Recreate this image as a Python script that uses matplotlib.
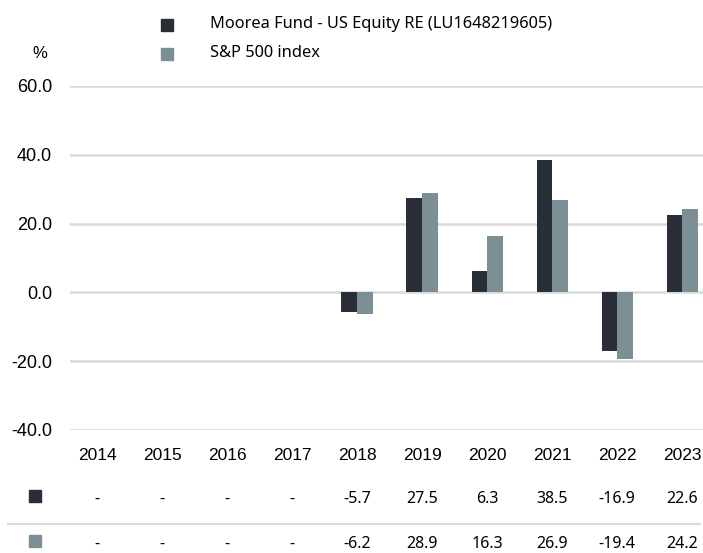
import numpy as np
import matplotlib.pyplot as plt

# chart data
years = ['2014', '2015', '2016', '2017', '2018', '2019', '2020', '2021', '2022', '2023']
fund = [None, None, None, None, -5.7, 27.5, 6.3, 38.5, -16.9, 22.6]
index = [None, None, None, None, -6.2, 28.9, 16.3, 26.9, -19.4, 24.2]
fund_name = 'Moorea Fund - US Equity RE (LU1648219605)'
index_name = 'S&P 500 index'
yticks = [60, 40, 20, 0, -20, -40]

dark = '#2a2e37'
light = '#7b8f94'
grid_col = '#d9d9d9'
W, H = 703, 553

fig = plt.figure(figsize=(W / 100, H / 100), dpi=100)

def fx(px):
    return px / W

def fy(py):
    return 1 - py / H

ax = fig.add_axes([fx(70), fy(430), 1 - fx(70), fy(86) - fy(430)])
x = np.arange(len(years))
bw = 0.24
f_vals = np.array([np.nan if v is None else v for v in fund])
i_vals = np.array([np.nan if v is None else v for v in index])
ax.bar(x - bw / 2, np.nan_to_num(f_vals), bw, color=dark, zorder=3)
ax.bar(x + bw / 2, np.nan_to_num(i_vals), bw, color=light, zorder=3)

ax.set_ylim(-40, 60)
ax.set_xlim(-0.415, 9.32)
for t in yticks:
    ax.axhline(t, color=grid_col, lw=1.8, zorder=1)
ax.set_yticks(yticks)
ax.set_yticklabels([f'{t:.1f}' for t in yticks], fontsize=13, family='Liberation Sans')
ax.set_xticks([])
ax.tick_params(axis='y', length=0, pad=13)
for s in ax.spines.values():
    s.set_visible(False)

# year labels
for xi, yr in zip(x, years):
    ax.annotate(yr, (xi, fy(456)), xycoords=('data', 'figure fraction'),
                ha='center', va='center', fontsize=12.5, family='Liberation Sans',
                annotation_clip=False)

fig.text(fx(40), fy(54), '%', ha='center', va='center', fontsize=12, family='Liberation Sans')

# legend
for py, col, name in [(25, dark, fund_name), (54, light, index_name)]:
    fig.patches.append(plt.Rectangle((fx(161), fy(py + 6)), fx(12), fy(py - 6) - fy(py + 6),
                                     transform=fig.transFigure, color=col))
    fig.text(fx(210), fy(py - 1), name, ha='left', va='center', fontsize=11.8, family='Noto Sans')

# table rows below
for py, col, vals in [(496, dark, fund), (541, light, index)]:
    fig.patches.append(plt.Rectangle((fx(29), fy(py + 6)), fx(12), fy(py - 6) - fy(py + 6),
                                     transform=fig.transFigure, color=col))
    for xi, v in zip(x, vals):
        label = '-' if v is None else f'{v:.1f}'
        ax.annotate(label, (xi, fy(py + 3)), xycoords=('data', 'figure fraction'),
                    ha='center', va='center', fontsize=11.5, family='Noto Sans',
                    annotation_clip=False)
fig.add_artist(plt.Line2D([fx(8), fx(700)], [fy(524), fy(524)], color=grid_col, lw=1.5))

fig.savefig('out.png', dpi=100)
